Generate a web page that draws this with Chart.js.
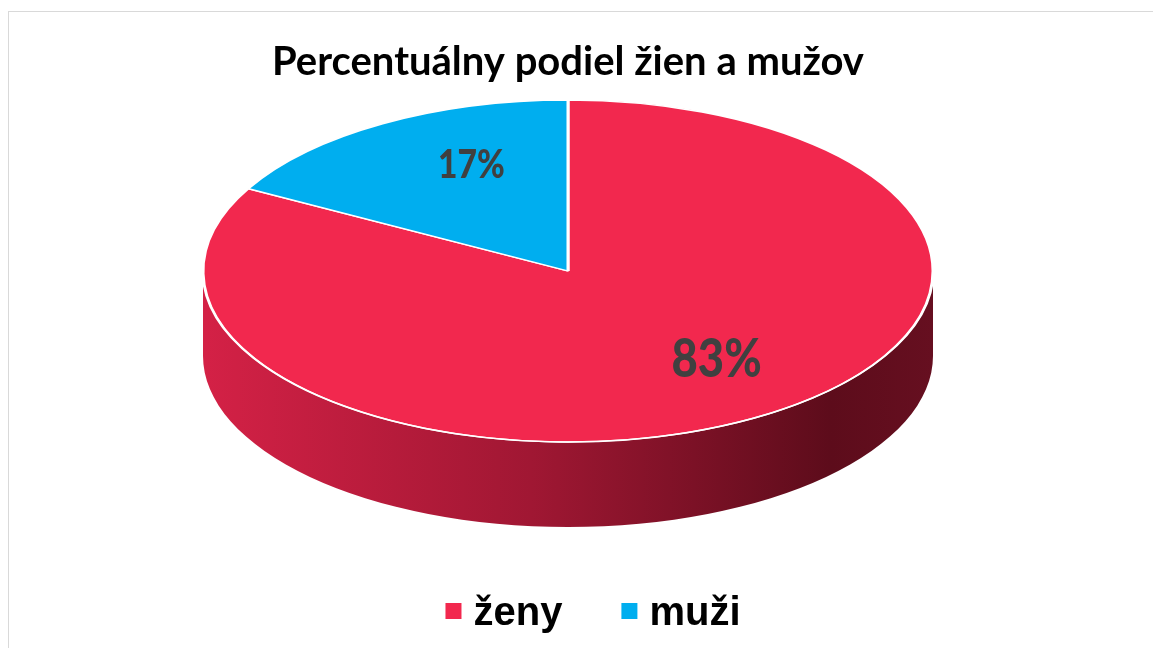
<!DOCTYPE html>
<html>
<head>
<meta charset="utf-8">
<script src="https://cdn.jsdelivr.net/npm/chart.js@4"></script>
<style>
  html, body { margin: 0; padding: 0; background: #fff; }
  #wrap { position: relative; width: 1153px; height: 648px; overflow: hidden; }
  #frame { position: absolute; left: 8px; top: 11px; width: 1300px; height: 800px;
           border-top: 1px solid #d9d9d9; border-left: 1px solid #d9d9d9; }
  canvas { position: absolute; left: 0; top: 0; }
</style>
</head>
<body>
<div id="wrap">
  <div id="frame"></div>
  <canvas id="chart" width="1153" height="648"></canvas>
</div>
<script>
'use strict';

let categories = ['ženy', 'muži'];
let shareValues = [83, 17];
let sliceColors = ['#f2284e', '#00aeef'];
let titleText = 'Percentuálny podiel žien a mužov';

// look of the fake 3d pie
let tilt = 0.4685;
let depth = 85;
let labelFont = 'Lato, sans-serif';

function ellipseInfo(chart) {
  let area = chart.chartArea;
  let rx = (area.right - area.left) / 2;
  let ry = rx * tilt;
  return { cx: (area.left + area.right) / 2, cy: area.top + ry, rx: rx, ry: ry };
}

function sideGradient(ctx, e) {
  let g = ctx.createLinearGradient(e.cx - e.rx, 0, e.cx + e.rx, 0);
  g.addColorStop(0, '#d42146');
  g.addColorStop(0.45, '#a01733');
  g.addColorStop(0.86, '#5d0c1b');
  g.addColorStop(1, '#660f20');
  return g;
}

const pie3d = {
  id: 'pie3d',
  beforeDatasetsDraw(chart) {
    let ctx = chart.ctx;
    let e = ellipseInfo(chart);
    let arcs = chart.getDatasetMeta(0).data;

    // side wall, only the front half can be seen
    arcs.forEach((arc) => {
      for (let k = -1; k <= 1; k++) {
        let a0 = Math.max(arc.startAngle + k * 2 * Math.PI, 0);
        let a1 = Math.min(arc.endAngle + k * 2 * Math.PI, Math.PI);
        if (a1 <= a0) continue;
        ctx.save();
        ctx.beginPath();
        ctx.ellipse(e.cx, e.cy, e.rx, e.ry, 0, a0, a1, false);
        ctx.ellipse(e.cx, e.cy + depth, e.rx, e.ry, 0, a1, a0, true);
        ctx.closePath();
        ctx.fillStyle = sideGradient(ctx, e);
        ctx.fill();
        ctx.restore();
      }
    });

    // squash the flat pie onto the top face
    let r = arcs[0].outerRadius;
    ctx.save();
    ctx.translate(e.cx, e.cy);
    ctx.scale(e.rx / r, e.ry / r);
    ctx.translate(-arcs[0].x, -arcs[0].y);
  },
  afterDatasetsDraw(chart) {
    let ctx = chart.ctx;
    ctx.restore();
    let e = ellipseInfo(chart);
    let arcs = chart.getDatasetMeta(0).data;

    // white rim on the front edge
    ctx.save();
    ctx.beginPath();
    ctx.ellipse(e.cx, e.cy, e.rx, e.ry, 0, 0.05, Math.PI - 0.05, false);
    ctx.strokeStyle = '#ffffff';
    ctx.lineWidth = 1.5;
    ctx.stroke();
    ctx.restore();

    // percentage labels (narrowed a bit, closer to the original font)
    let total = shareValues.reduce((a, b) => a + b, 0);
    arcs.forEach((arc, i) => {
      let mid = (arc.startAngle + arc.endAngle) / 2;
      let x = e.cx + e.rx * 0.66 * Math.cos(mid) + 26;
      let y = e.cy + e.ry * 0.66 * Math.sin(mid) - 9;
      let size = 47 + 8 * Math.sin(mid);
      ctx.save();
      ctx.translate(x, y);
      ctx.scale(0.84, 1);
      ctx.font = '900 ' + Math.round(size) + 'px ' + labelFont;
      ctx.fillStyle = '#404040';
      ctx.textAlign = 'center';
      ctx.textBaseline = 'middle';
      ctx.fillText(Math.round(shareValues[i] / total * 100) + '%', 0, 0);
      ctx.restore();
    });

    // legend
    ctx.save();
    ctx.font = 'bold 40px "Liberation Sans", Arial, sans-serif';
    let box = 16, boxGap = 12, itemGap = 59;
    let widths = categories.map((c) => box + boxGap + ctx.measureText(c).width);
    let full = widths.reduce((a, b) => a + b, 0) + itemGap * (categories.length - 1);
    let x = e.cx + 25 - full / 2;
    let baseY = 625;
    categories.forEach((c, i) => {
      ctx.fillStyle = sliceColors[i];
      ctx.fillRect(x, 603, box, box);
      ctx.fillStyle = '#000000';
      ctx.textBaseline = 'alphabetic';
      ctx.fillText(c, x + box + boxGap, baseY);
      x += widths[i] + itemGap;
    });
    ctx.restore();
  }
};

let ctx = document.getElementById('chart').getContext('2d');
let chart = new Chart(ctx, {
  type: 'pie',
  data: {
    labels: categories,
    datasets: [{
      data: shareValues,
      backgroundColor: sliceColors,
      borderColor: '#ffffff',
      borderWidth: 2
    }]
  },
  options: {
    responsive: false,
    animation: false,
    layout: { padding: { left: 203, right: 220, top: 0, bottom: 60 } },
    plugins: {
      legend: { display: false },
      tooltip: { enabled: false },
      title: {
        display: true,
        text: titleText,
        color: '#000000',
        font: { family: 'Lato', size: 40, weight: 'bold' },
        padding: { top: 38, bottom: 14 }
      }
    }
  },
  plugins: [pie3d]
});
</script>
</body>
</html>
